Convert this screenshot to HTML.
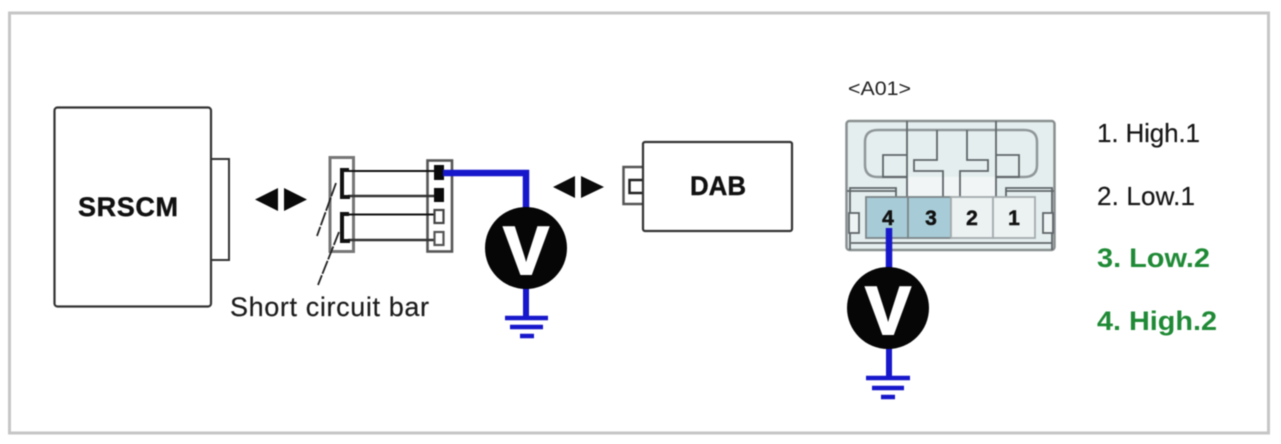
<!DOCTYPE html>
<html lang="en">
<head>
<meta charset="utf-8">
<title>SRSCM DAB connector diagram</title>
<style>
html,body{margin:0;padding:0;background:#fff;width:1281px;height:444px;overflow:hidden}
svg{display:block;filter:blur(.5px)}
text{font-family:"Liberation Sans",Arial,sans-serif}
</style>
</head>
<body>
<svg width="1281" height="444" viewBox="0 0 1281 444" xmlns="http://www.w3.org/2000/svg">
<rect x="9.500" y="13" width="1259" height="420" fill="#fff" stroke="#c6c6c6" stroke-width="3"/>

<!-- SRSCM -->
<rect x="211" y="159" width="18" height="101" fill="#fff" stroke="#333" stroke-width="2"/>
<rect x="54.500" y="107.500" width="156.500" height="199" rx="3" fill="#fff" stroke="#333" stroke-width="2.200"/>
<text x="78" y="216" font-size="27" font-weight="700" fill="#111" stroke="#111" stroke-width=".4" textLength="100" lengthAdjust="spacing">SRSCM</text>

<!-- arrows -->
<g fill="#0a0a0a">
<polygon points="255,199.500 278,188 278,211"/>
<polygon points="284,188 284,211 307,199.500"/>
<polygon points="553,187 575,176 575,198"/>
<polygon points="581,176 581,198 604,187"/>
</g>

<!-- short-circuit connector -->
<rect x="330" y="157.500" width="23.500" height="94" fill="#fff" stroke="#777" stroke-width="3"/>
<rect x="427.500" y="160.500" width="24.500" height="91" fill="#fff" stroke="#555" stroke-width="2.600"/>
<g fill="none" stroke="#111" stroke-width="2">
<line x1="348" y1="171" x2="434" y2="171"/>
<line x1="348" y1="196" x2="434" y2="196" stroke="#333" stroke-width="2.500"/>
<line x1="348" y1="214.500" x2="434" y2="214.500"/>
<line x1="348" y1="240" x2="434" y2="240" stroke="#333" stroke-width="2.500"/>
</g>
<g fill="none" stroke="#111" stroke-width="4">
<polyline points="349,170 342,170 342,197 350,197"/>
<polyline points="349,214 342,214 342,241 350,241"/>
</g>
<g fill="none" stroke="#222" stroke-width="1.800" stroke-dasharray="14 1.500">
<line x1="336" y1="183" x2="317" y2="236"/>
<line x1="339" y1="232" x2="318" y2="285"/>
</g>
<rect x="434" y="165" width="10" height="15" fill="#0a0a0a"/>
<rect x="434" y="188" width="10" height="14" fill="#0a0a0a"/>
<rect x="434.500" y="210" width="9" height="13" fill="#fff" stroke="#444" stroke-width="2.200"/>
<rect x="434.500" y="232" width="9" height="13" fill="#fff" stroke="#555" stroke-width="2.200"/>
<text x="230" y="316" font-size="27" fill="#1c1c1c" stroke="#1c1c1c" stroke-width=".2" textLength="199" lengthAdjust="spacing">Short circuit bar</text>

<!-- left voltmeter -->
<g fill="none" stroke="#1717cc">
<polyline points="443,173 526,173 526,215" stroke-width="6.500"/>
<line x1="526" y1="285" x2="526" y2="318" stroke-width="6"/>
<line x1="505" y1="318" x2="548" y2="318" stroke-width="4.500"/>
<line x1="510" y1="327" x2="543" y2="327" stroke-width="4.500"/>
<line x1="520" y1="336" x2="534" y2="336" stroke-width="4.500"/>
</g>
<circle cx="526" cy="248" r="41" fill="#060606"/>
<text x="526" y="274" font-size="68" font-weight="700" fill="#fff" stroke="#fff" stroke-width="2" text-anchor="middle">V</text>

<!-- DAB -->
<rect x="623.500" y="167" width="21" height="37" fill="#fff" stroke="#555" stroke-width="2.500"/>
<rect x="629.500" y="180" width="14" height="13" fill="#fff" stroke="#222" stroke-width="2.500"/>
<rect x="643" y="142" width="149" height="89" rx="2" fill="#fff" stroke="#333" stroke-width="2.200"/>
<text x="690" y="195" font-size="27" font-weight="700" fill="#111" stroke="#111" stroke-width=".4" textLength="56" lengthAdjust="spacingAndGlyphs">DAB</text>

<!-- connector A01 -->
<text x="848" y="95" font-size="19" fill="#222" textLength="63" lengthAdjust="spacingAndGlyphs">&lt;A01&gt;</text>
<rect x="846.500" y="121" width="208" height="129" rx="3" fill="#e5eeee" stroke="#8a8f90" stroke-width="2.500"/>
<rect x="907" y="177" width="89" height="20" fill="#f1f5f5"/>
<g fill="none" stroke="#90979a" stroke-width="2.500">
<path d="M907,177 H878 Q865,177 865,165 V142 Q865,130 878,130 H1024 Q1037,130 1037,142 V165 Q1037,177 1024,177 H996"/>
</g>
<g fill="none" stroke="#5f6669" stroke-width="1.800">
<line x1="907" y1="121" x2="907" y2="197"/>
<line x1="996" y1="121" x2="996" y2="197"/>
<polyline points="907,155 883,155 883,177 907,177"/>
<polyline points="996,155 1019,155 1019,177 996,177"/>
<polyline points="937,130 937,160 914,160 914,171 943,171 943,197"/>
<polyline points="967,130 967,160 988,160 988,171 960,171 960,197"/>
<polyline points="850,250 850,188 896,188 896,197"/>
<polyline points="1052,250 1052,188 1006,188 1006,197"/>
<line x1="847" y1="191" x2="896" y2="191"/>
<line x1="1006" y1="191" x2="1054" y2="191"/>
<line x1="851" y1="243" x2="1052" y2="243"/>
<rect x="849" y="213" width="10" height="20" fill="#eef3f3"/>
<rect x="1043" y="213" width="10" height="20" fill="#eef3f3"/>
</g>
<g stroke="#7c8588" stroke-width="1.800">
<rect x="866" y="197" width="42" height="41" fill="#a8ccd7"/>
<rect x="908" y="197" width="43" height="41" fill="#a8ccd7"/>
<rect x="951" y="197" width="42" height="41" fill="#ecf1f1" stroke="#a4acae"/>
<rect x="993" y="197" width="42" height="41" fill="#ecf1f1" stroke="#a4acae"/>
</g>
<g font-size="21" font-weight="700" fill="#111" stroke="#111" stroke-width=".5" text-anchor="middle">
<text x="888" y="225">4</text>
<text x="931" y="225">3</text>
<text x="972" y="225">2</text>
<text x="1014" y="225">1</text>
</g>

<!-- right voltmeter -->
<g fill="none" stroke="#1717cc">
<line x1="889" y1="228" x2="889" y2="275" stroke-width="6.500"/>
<line x1="889" y1="340" x2="889" y2="378" stroke-width="6"/>
<line x1="866" y1="378" x2="910" y2="378" stroke-width="4.500"/>
<line x1="872" y1="388" x2="904" y2="388" stroke-width="4.500"/>
<line x1="881" y1="397" x2="895" y2="397" stroke-width="4.500"/>
</g>
<circle cx="888" cy="308" r="41" fill="#060606"/>
<text x="888" y="334" font-size="68" font-weight="700" fill="#fff" stroke="#fff" stroke-width="2" text-anchor="middle">V</text>

<!-- legend -->
<g>
<text x="1097" y="142" font-size="26" fill="#161616" stroke="#161616" stroke-width=".2" textLength="103" lengthAdjust="spacing">1. High.1</text>
<text x="1097" y="205" font-size="26" fill="#161616" stroke="#161616" stroke-width=".2" textLength="98" lengthAdjust="spacing">2. Low.1</text>
<text x="1097" y="267" font-size="27" fill="#1f8a35" font-weight="700" textLength="113" lengthAdjust="spacingAndGlyphs">3. Low.2</text>
<text x="1097" y="330" font-size="27" fill="#1f8a35" font-weight="700" textLength="120" lengthAdjust="spacingAndGlyphs">4. High.2</text>
</g>
</svg>
</body>
</html>
